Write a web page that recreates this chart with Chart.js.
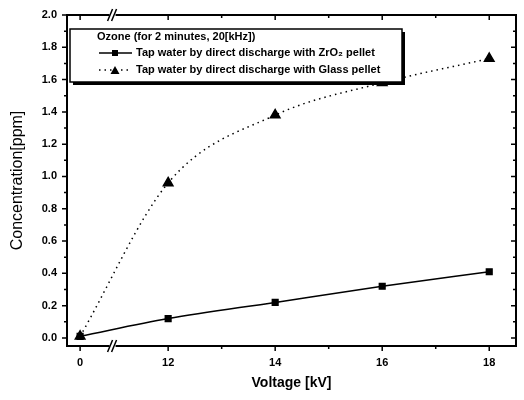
<!DOCTYPE html>
<html>
<head>
<meta charset="utf-8">
<script src="https://cdn.jsdelivr.net/npm/chart.js@4.4.1/dist/chart.umd.min.js"></script>
<style>
  html, body { margin: 0; padding: 0; background: #fff; }
  #wrap { width: 524px; height: 400px; }
</style>
</head>
<body>
<div id="wrap"><canvas id="ozone_chart" width="524" height="400"></canvas></div>
<script>
// data
const voltages = [0, 12, 14, 16, 18];
const zro2Ppm = [0.01, 0.12, 0.22, 0.32, 0.41];
const glassPpm = [0.01, 0.96, 1.38, 1.58, 1.73];
const xTickLabels = ['0', '12', '14', '16', '18'];
const xMinorTicks = [13, 15, 17];
const legendTitle = 'Ozone (for 2 minutes, 20[kHz])';
const zro2Label = 'Tap water by direct discharge with ZrO\u2082 pellet';
const glassLabel = 'Tap water by direct discharge with Glass pellet';

// broken x axis: 0 kV is drawn just left of the break
const zeroPos = 10.355;
const breakPos = 10.98;
const toAxis = v => v === 0 ? zeroPos : v;

const ctx = document.getElementById('ozone_chart');
const font = 'Liberation Sans, Arial, sans-serif';

// frame, ticks on all four sides, axis break marks
const framePlugin = {
  id: 'frame',
  afterDraw(chart) {
    const c = chart.ctx, a = chart.chartArea;
    const xs = chart.scales.x, ys = chart.scales.y;
    c.save();
    c.strokeStyle = '#000';
    c.lineWidth = 1.5;
    // y ticks
    for (let i = 0; i <= 20; i++) {
      const y = ys.getPixelForValue(i / 10);
      const len = i % 2 === 0 ? 5 : 3;
      c.beginPath();
      c.moveTo(a.left - len, y); c.lineTo(a.left, y);
      c.moveTo(a.right, y); c.lineTo(a.right - len, y);
      c.stroke();
    }
    // x ticks
    const xt = voltages.map(v => [toAxis(v), 5]).concat(xMinorTicks.map(v => [v, 3]));
    xt.forEach(([v, len]) => {
      const x = xs.getPixelForValue(v);
      c.beginPath();
      c.moveTo(x, a.bottom); c.lineTo(x, a.bottom + len);
      c.moveTo(x, a.top); c.lineTo(x, a.top + len);
      c.stroke();
    });
    c.lineWidth = 2;
    c.strokeRect(a.left, a.top, a.right - a.left, a.bottom - a.top);
    // break marks
    const bx = xs.getPixelForValue(breakPos);
    [a.top, a.bottom].forEach(y => {
      c.fillStyle = '#fff';
      c.fillRect(bx - 4, y - 2, 6, 4);
      c.lineWidth = 1.5;
      c.beginPath();
      c.moveTo(bx - 6, y + 6); c.lineTo(bx - 1, y - 6);
      c.moveTo(bx - 2, y + 6); c.lineTo(bx + 3, y - 6);
      c.stroke();
    });
    c.restore();
  }
};

// boxed legend with drop shadow, inside the plot
const legendPlugin = {
  id: 'boxLegend',
  afterDraw(chart) {
    const c = chart.ctx;
    const bx = 70, by = 29, bw = 332, bh = 53;
    c.save();
    c.fillStyle = '#000';
    c.fillRect(bx + 3, by + 3, bw, bh);
    c.fillStyle = '#fff';
    c.fillRect(bx, by, bw, bh);
    c.strokeStyle = '#000';
    c.lineWidth = 1.5;
    c.strokeRect(bx, by, bw, bh);
    c.fillStyle = '#000';
    c.font = 'bold 11px ' + font;
    c.textBaseline = 'middle';
    c.fillText(legendTitle, 97, 37);
    const rows = [[chart.data.datasets[0], 53], [chart.data.datasets[1], 70]];
    rows.forEach(([ds, y]) => {
      c.lineWidth = ds.borderWidth;
      c.setLineDash(ds.borderDash || []);
      c.beginPath();
      c.moveTo(99, y); c.lineTo(132, y);
      c.stroke();
      c.setLineDash([]);
      if (ds.pointStyle === 'rect') {
        c.fillRect(112, y - 3, 6, 6);
      } else {
        c.beginPath();
        c.moveTo(115, y - 4); c.lineTo(119.5, y + 4); c.lineTo(110.5, y + 4);
        c.closePath(); c.fill();
      }
      c.fillText(ds.label, 136, y);
    });
    c.restore();
  }
};

new Chart(ctx, {
  type: 'line',
  data: {
    datasets: [{
      label: zro2Label,
      data: voltages.map((v, i) => ({ x: toAxis(v), y: zro2Ppm[i] })),
      borderColor: '#000',
      backgroundColor: '#000',
      borderWidth: 1.5,
      pointStyle: 'rect',
      pointRadius: 4,
      cubicInterpolationMode: 'monotone'
    },
    {
      label: glassLabel,
      data: voltages.map((v, i) => ({ x: toAxis(v), y: glassPpm[i] })),
      borderColor: '#000',
      backgroundColor: '#000',
      borderWidth: 1.5,
      borderDash: [1.5, 4],
      pointStyle: 'triangle',
      pointRadius: 5.5,
      cubicInterpolationMode: 'monotone'
    }]
  },
  options: {
    responsive: false,
    animation: false,
    layout: { padding: { top: 15, right: 8, left: 0, bottom: 0 } },
    plugins: { legend: { display: false }, tooltip: { enabled: false } },
    scales: {
      x: {
        type: 'linear',
        min: 10.11,
        max: 18.5,
        afterFit(s) { s.height = 54; },
        afterBuildTicks(s) { s.ticks = voltages.map(v => ({ value: toAxis(v) })); },
        grid: { display: false },
        border: { display: false },
        ticks: {
          padding: 2,
          color: '#000',
          font: { family: font, size: 11, weight: 'bold' },
          callback: (val, i) => xTickLabels[i]
        },
        title: {
          display: true,
          text: 'Voltage [kV]',
          color: '#000',
          padding: { top: 0, bottom: 8 },
          font: { family: font, size: 14, weight: 'bold' }
        }
      },
      y: {
        min: -0.05,
        max: 2.0,
        afterFit(s) { s.width = 67; },
        afterBuildTicks(s) {
          s.ticks = [];
          for (let i = 0; i <= 10; i++) s.ticks.push({ value: i * 0.2 });
        },
        grid: { display: false },
        border: { display: false },
        ticks: {
          padding: 2,
          color: '#000',
          font: { family: font, size: 11, weight: 'bold' },
          callback: v => v.toFixed(1)
        },
        title: {
          display: true,
          text: 'Concentration[ppm]',
          color: '#000',
          padding: { top: 8, bottom: 0 },
          font: { family: font, size: 16 }
        }
      }
    }
  },
  plugins: [framePlugin, legendPlugin]
});
</script>
</body>
</html>
